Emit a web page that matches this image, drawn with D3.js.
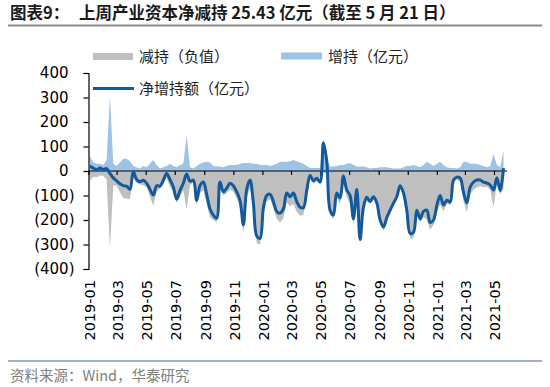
<!DOCTYPE html>
<html>
<head>
<meta charset="utf-8">
<script src="https://cdn.jsdelivr.net/npm/d3@7"></script>
<style>
  body { margin: 0; background: #fff; }
  svg { display: block; }
</style>
</head>
<body>
<div id="chart"></div>
<script>
// weekly data (亿元)
let netValues = [20, 12, 5, 12, 6, 10, -10, -28, -40, -52,
  -60, -62, -75, -2, -35, -44, -38, -50, -75, -98,
  -60, -62, -38, -10, -35, -65, -115, -80, -50, -12,
  -42, -37, -120, -60, -45, -95, -155, -180, -193, -45,
  -85, -70, -50, -60, -85, -120, -220, -75, -37, -130,
  -265, -275, -150, -100, -95, -125, -165, -172, -155, -90,
  -105, -90, -125, -148, -150, -80, -18, -40, -30, -45,
  115, 40, -160, -180, -90, -110, -20, -78, -100, -195,
  -75, -280, -148, -107, -125, -105, -130, -200, -229, -190,
  -160, -131, -105, -60, -90, -160, -255, -250, -160, -195,
  -165, -160, -210, -200, -140, -100, -139, -119, -127, -37,
  -25, -29, -86, -130, -66, -45, -37, -37, -45, -49,
  -57, -78, -28, -80, 12]

let incValues = [60, 35, 30, 30, 25, 45, 305, 30, 20, 35,
  50, 50, 40, 20, 15, 10, 20, 15, 30, 45,
  25, 10, 15, 20, 30, 20, 15, 25, 30, 145,
  15, 10, 20, 30, 35, 38, 35, 20, 18, 18,
  15, 20, 25, 25, 25, 30, 33, 33, 33, 30,
  30, 25, 25, 25, 20, 25, 30, 38, 38, 38,
  40, 45, 40, 35, 30, 20, 12, 12, 12, 12,
  120, 50, 18, 18, 20, 25, 25, 30, 33, 25,
  18, 18, 18, 15, 10, 12, 12, 15, 15, 15,
  12, 10, 10, 10, 15, 20, 20, 25, 20, 15,
  25, 38, 30, 20, 30, 38, 25, 15, 12, 12,
  10, 15, 38, 38, 30, 30, 30, 25, 20, 15,
  20, 70, 25, 15, 85]

let decValues = [-40, -23, -25, -18, -19, -35, -315, -58, -60, -87,
  -110, -112, -115, -22, -50, -54, -58, -65, -105, -143,
  -85, -72, -53, -30, -65, -85, -130, -105, -80, -157,
  -57, -47, -140, -90, -80, -133, -190, -200, -211, -63,
  -100, -90, -75, -85, -110, -150, -253, -108, -70, -160,
  -295, -300, -175, -125, -115, -150, -195, -210, -193, -128,
  -145, -135, -165, -183, -180, -100, -30, -52, -42, -57,
  -5, -10, -178, -198, -110, -135, -45, -108, -133, -220,
  -93, -298, -166, -122, -135, -117, -142, -215, -244, -205,
  -172, -141, -115, -70, -105, -180, -275, -275, -180, -210,
  -190, -198, -240, -220, -170, -138, -164, -134, -139, -49,
  -35, -44, -124, -168, -96, -75, -67, -62, -65, -64,
  -77, -148, -53, -95, -73]

// one point every Friday, 2019-01-04 .. 2021-05-21
let weeks = d3.timeFriday.range(new Date(2019, 0, 4), new Date(2021, 4, 22))
let monthTicks = d3.timeMonth.every(2).range(new Date(2019, 0, 1), new Date(2021, 5, 1))
let yTicks = [400, 300, 200, 100, 0, -100, -200, -300, -400]

let width = 550, height = 387
let cjk = '"Noto Sans CJK SC", "Noto Sans", sans-serif'
let num = '"DejaVu Sans", sans-serif'

let svg = d3.select('#chart')
  .append('svg')
  .attr('width', width)
  .attr('height', height)

let x = d3.scaleTime()
  .domain([new Date(2019, 0, 1), new Date(2021, 4, 1)])
  .range([88.5, 494])
let y = d3.scaleLinear()
  .domain([-400, 400])
  .range([269, 73])

let rows = weeks.map((d, i) => ({ date: d, net: netValues[i], inc: incValues[i], dec: decValues[i] }))

// title
let title = svg.append('text')
  .attr('y', 19)
  .attr('font-family', cjk)
  .attr('font-size', 16.5)
  .attr('font-weight', 'bold')
  .attr('fill', '#1a1a1a')
title.append('tspan').attr('x', 10).text('图表9：')
title.append('tspan').attr('x', 79).text('上周产业资本净减持 25.43 亿元（截至 5 月 21 日）')

svg.append('line')
  .attr('x1', 8).attr('x2', 542)
  .attr('y1', 25.5).attr('y2', 25.5)
  .attr('stroke', '#8c8c8c')
  .attr('stroke-width', 2)

// areas
let decArea = d3.area()
  .x(d => x(d.date))
  .y0(y(0))
  .y1(d => y(d.dec))
let incArea = d3.area()
  .x(d => x(d.date))
  .y0(y(0))
  .y1(d => y(d.inc))

svg.append('path')
  .datum(rows)
  .attr('d', decArea)
  .attr('fill', '#bfbfbf')
svg.append('path')
  .datum(rows)
  .attr('d', incArea)
  .attr('fill', '#9dc3e6')

// y axis
let yAxis = svg.append('g')
  .attr('transform', `translate(${x.range()[0]},0)`)
  .call(d3.axisLeft(y)
    .tickValues(yTicks)
    .tickSize(5)
    .tickPadding(9)
    .tickFormat(v => v < 0 ? `(${-v})` : `${v}`))
yAxis.select('.domain').attr('stroke', '#000').attr('stroke-width', 1.2)
yAxis.selectAll('.tick line').attr('stroke', '#000').attr('stroke-width', 1.2)
yAxis.selectAll('.tick text')
  .attr('font-family', num)
  .attr('font-size', 15)
  .attr('fill', '#000')
  .attr('dx', v => v < 0 ? 0 : -6)

// zero line with month ticks
let xAxis = svg.append('g')
  .attr('transform', `translate(0,${y(0)})`)
  .call(d3.axisBottom(x)
    .tickValues(monthTicks)
    .tickSize(4)
    .tickSizeOuter(0)
    .tickFormat(''))
xAxis.select('.domain')
  .attr('d', `M${x.range()[0]},0H507`)
  .attr('stroke', '#000')
  .attr('stroke-width', 1.2)
xAxis.selectAll('.tick line').attr('stroke', '#000').attr('stroke-width', 1.2)

// net line
let line = d3.line()
  .x(d => x(d.date))
  .y(d => y(d.net))
  .curve(d3.curveCatmullRom)
svg.append('path')
  .datum(rows)
  .attr('d', line)
  .attr('fill', 'none')
  .attr('stroke', '#125a9c')
  .attr('stroke-width', 3)
  .attr('stroke-linejoin', 'round')

// month labels along the bottom
svg.append('g')
  .selectAll('text')
  .data(monthTicks)
  .enter()
  .append('text')
  .attr('transform', d => `translate(${x(d) + 1},280) rotate(-90)`)
  .attr('text-anchor', 'end')
  .attr('dy', '0.36em')
  .attr('font-family', num)
  .attr('font-size', 14.5)
  .attr('fill', '#000')
  .text(d3.timeFormat('%Y-%m'))

// legend
let legend = svg.append('g').attr('font-family', cjk).attr('font-size', 15).attr('fill', '#222')
legend.append('rect').attr('x', 93).attr('y', 53).attr('width', 40).attr('height', 7).attr('fill', '#bfbfbf')
legend.append('text').attr('x', 139).attr('y', 56.5).attr('dy', '0.35em').text('减持（负值）')
legend.append('rect').attr('x', 281).attr('y', 52.5).attr('width', 41).attr('height', 7).attr('fill', '#9dc3e6')
legend.append('text').attr('x', 328).attr('y', 56.5).attr('dy', '0.35em').text('增持（亿元）')
legend.append('line').attr('x1', 93).attr('x2', 134).attr('y1', 88.5).attr('y2', 88.5)
  .attr('stroke', '#125a9c').attr('stroke-width', 3)
legend.append('text').attr('x', 139).attr('y', 88.5).attr('dy', '0.35em').text('净增持额（亿元）')

// footer
svg.append('line')
  .attr('x1', 8).attr('x2', 542)
  .attr('y1', 361).attr('y2', 361)
  .attr('stroke', '#8497b0')
  .attr('stroke-width', 1.5)
svg.append('text')
  .attr('x', 10)
  .attr('y', 381)
  .attr('font-family', cjk)
  .attr('font-size', 14.5)
  .attr('fill', '#808080')
  .text('资料来源：Wind，华泰研究')
</script>
</body>
</html>
